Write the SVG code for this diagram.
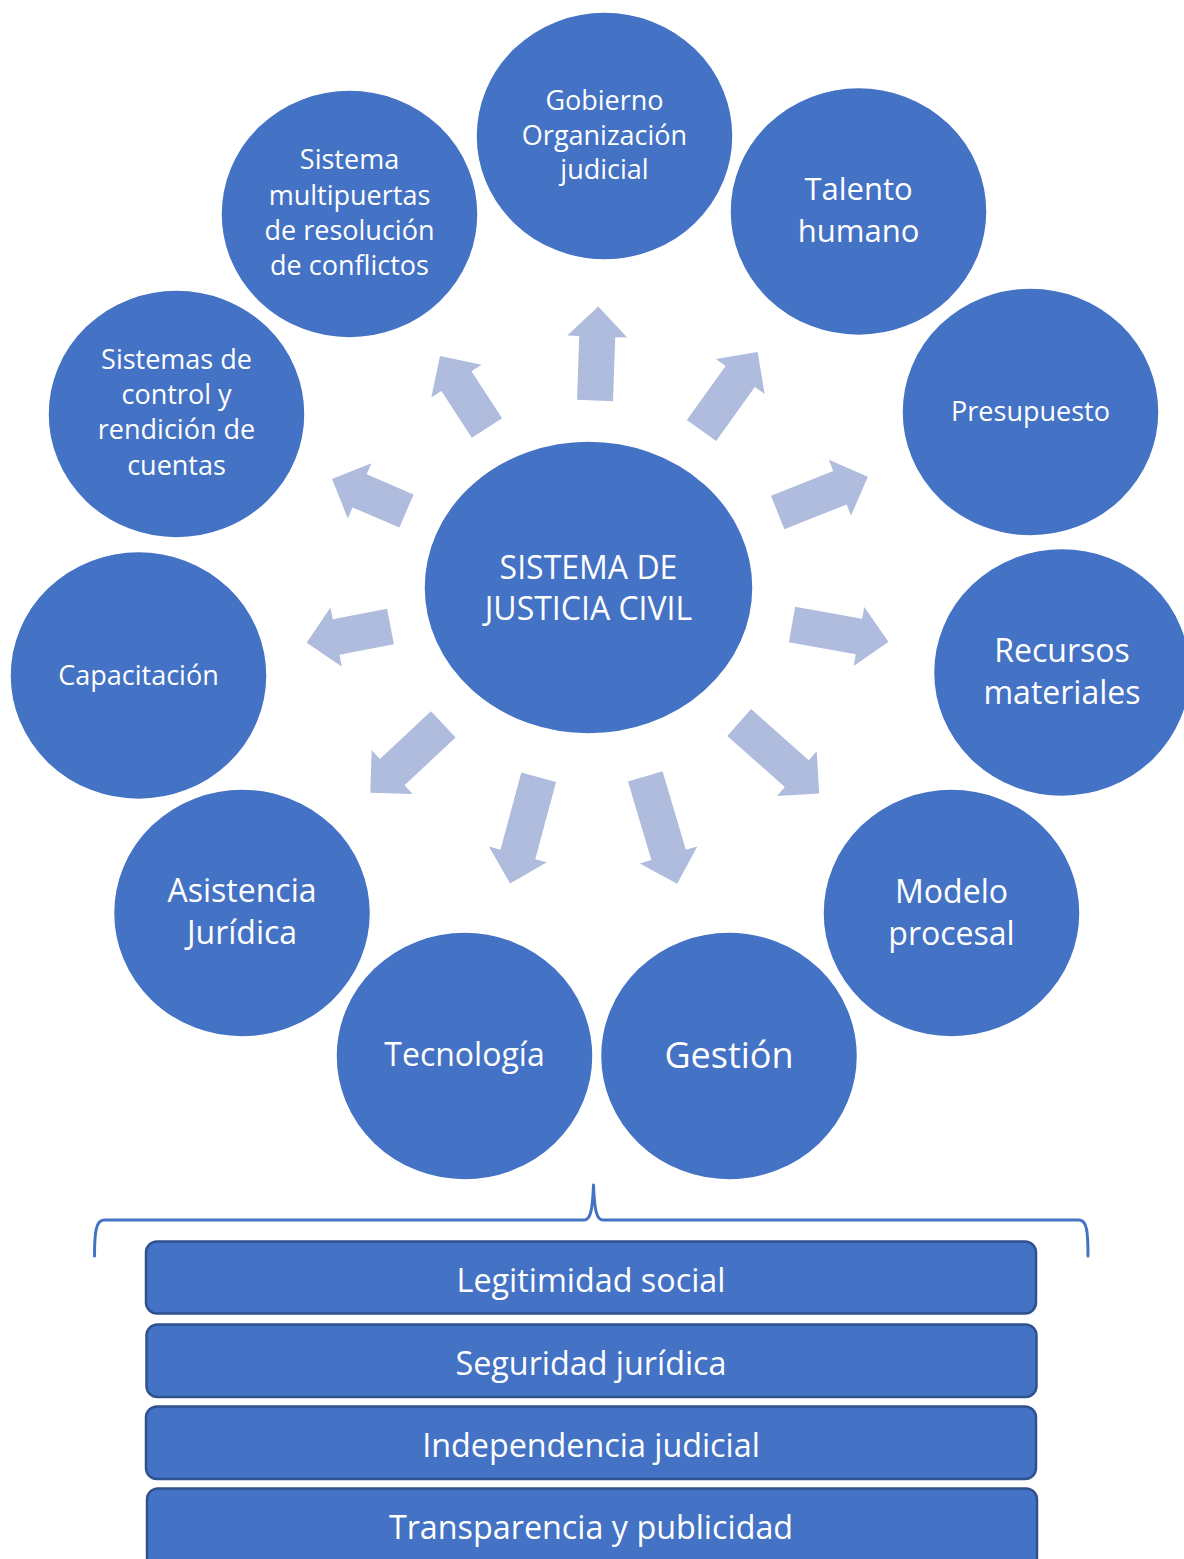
<svg xmlns="http://www.w3.org/2000/svg" width="1184" height="1559" viewBox="0 0 1184 1559">
  <style>
    .node { fill: #4472C4; stroke: #FFFFFF; stroke-width: 1.5; }
    .bar { fill: #4472C4; stroke: #2F528F; stroke-width: 2.5; }
    .arr { fill: #AFBCDE; }
    .brace { fill: none; stroke: #4472C4; stroke-width: 3; stroke-linecap: round; stroke-linejoin: round; }
    text { fill: #FFFFFF; font-family: "Open Sans", "Lato", "Liberation Sans", sans-serif; text-anchor: middle; }
    .t27 { font-size: 27px; }
    .t31 { font-size: 31px; }
    .t32 { font-size: 32px; }
    .t36 { font-size: 36px; }
    .tb { font-size: 32.3px; }
  </style>

  <rect x="0" y="0" width="1184" height="1559" fill="#FFFFFF"/>

  <!-- block arrows radiating from the central node -->
  <g id="connectors">
    <polygon class="arr" transform="translate(595,400.5) rotate(-88)" points="0,-18 64,-18 64,-30 94,0 64,30 64,18 0,18"/>
    <polygon class="arr" transform="translate(487,428) rotate(-123.1)" points="0,-18 56,-18 56,-30 86,0 56,30 56,18 0,18"/>
    <polygon class="arr" transform="translate(701.5,430.5) rotate(-54.4)" points="0,-18 66.5,-18 66.5,-30 96.5,0 66.5,30 66.5,18 0,18"/>
    <polygon class="arr" transform="translate(406.5,511) rotate(-156.8)" points="0,-18 51,-18 51,-30 81,0 51,30 51,18 0,18"/>
    <polygon class="arr" transform="translate(777.7,512.5) rotate(-21.7)" points="0,-18 67,-18 67,-30 97,0 67,30 67,18 0,18"/>
    <polygon class="arr" transform="translate(390.5,626.5) rotate(169.1)" points="0,-18 55.4,-18 55.4,-30 85.4,0 55.4,30 55.4,18 0,18"/>
    <polygon class="arr" transform="translate(792,624.5) rotate(10.1)" points="0,-18 68,-18 68,-30 98,0 68,30 68,18 0,18"/>
    <polygon class="arr" transform="translate(443.3,724.3) rotate(136.9)" points="0,-18 70,-18 70,-30 100,0 70,30 70,18 0,18"/>
    <polygon class="arr" transform="translate(739.2,722.5) rotate(41.6)" points="0,-18 77,-18 77,-30 107,0 77,30 77,18 0,18"/>
    <polygon class="arr" transform="translate(538.7,777.2) rotate(105.1)" points="0,-18 80,-18 80,-30 110,0 80,30 80,18 0,18"/>
    <polygon class="arr" transform="translate(645.3,776.3) rotate(73.5)" points="0,-18 82,-18 82,-30 112,0 82,30 82,18 0,18"/>
  </g>

  <!-- central node -->
  <g id="centro">
    <ellipse class="node" cx="588.5" cy="587.5" rx="164.5" ry="146.5"/>
    <text class="t32" x="588.5" y="579">SISTEMA DE</text>
    <text class="t32" x="588.5" y="620">JUSTICIA CIVIL</text>
  </g>

  <!-- surrounding nodes -->
  <g id="gobierno">
    <ellipse class="node" cx="604.5" cy="136" rx="128.5" ry="124"/>
    <text class="t27" x="604.5" y="110">Gobierno</text>
    <text class="t27" x="604.5" y="145">Organización</text>
    <text class="t27" x="604.5" y="179">judicial</text>
  </g>

  <g id="talento">
    <ellipse class="node" cx="858.5" cy="211.5" rx="128.5" ry="124"/>
    <text class="t31" x="858.5" y="200">Talento</text>
    <text class="t31" x="858.5" y="242">humano</text>
  </g>

  <g id="multipuertas">
    <ellipse class="node" cx="349.5" cy="214" rx="128.5" ry="124"/>
    <text class="t27" x="349.5" y="169">Sistema</text>
    <text class="t27" x="349.5" y="205">multipuertas</text>
    <text class="t27" x="349.5" y="240">de resolución</text>
    <text class="t27" x="349.5" y="275">de conflictos</text>
  </g>

  <g id="presupuesto">
    <ellipse class="node" cx="1030.5" cy="412" rx="128.5" ry="124"/>
    <text class="t27" x="1030.5" y="421">Presupuesto</text>
  </g>

  <g id="control">
    <ellipse class="node" cx="176.5" cy="414" rx="128.5" ry="124"/>
    <text class="t27" x="176.5" y="369">Sistemas de</text>
    <text class="t27" x="176.5" y="404">control y</text>
    <text class="t27" x="176.5" y="439">rendición de</text>
    <text class="t27" x="176.5" y="475">cuentas</text>
  </g>

  <g id="recursos">
    <ellipse class="node" cx="1062" cy="672.5" rx="128.5" ry="124"/>
    <text class="t32" x="1062" y="662">Recursos</text>
    <text class="t32" x="1062" y="704">materiales</text>
  </g>

  <g id="capacitacion">
    <ellipse class="node" cx="138.5" cy="675.5" rx="128.5" ry="124"/>
    <text class="t27" x="138.5" y="685">Capacitación</text>
  </g>

  <g id="modelo">
    <ellipse class="node" cx="951.5" cy="913" rx="128.5" ry="124"/>
    <text class="t32" x="951.5" y="903">Modelo</text>
    <text class="t32" x="951.5" y="945">procesal</text>
  </g>

  <g id="asistencia">
    <ellipse class="node" cx="242" cy="913" rx="128.5" ry="124"/>
    <text class="t32" x="242" y="902">Asistencia</text>
    <text class="t32" x="242" y="944">Jurídica</text>
  </g>

  <g id="tecnologia">
    <ellipse class="node" cx="464.5" cy="1056" rx="128.5" ry="124"/>
    <text class="t32" x="464.5" y="1066">Tecnología</text>
  </g>

  <g id="gestion">
    <ellipse class="node" cx="729" cy="1056" rx="128.5" ry="124"/>
    <text class="t36" x="729" y="1068">Gestión</text>
  </g>

  <!-- brace grouping the foundations -->
  <g id="llave">
    <path class="brace" d="M94.5,1256 C94.5,1232 96,1220 104,1220 L584,1220 C590,1220 592.5,1212 593.5,1185 C594.5,1212 597,1220 603,1220 L1079,1220 C1087,1220 1088,1232 1088,1256"/>
  </g>

  <!-- foundation bars -->
  <g id="legitimidad">
    <rect class="bar" x="146" y="1241.5" width="890" height="72" rx="11"/>
    <text class="tb" x="591" y="1292">Legitimidad social</text>
  </g>
  <g id="seguridad">
    <rect class="bar" x="146.5" y="1324.5" width="890" height="72.5" rx="11"/>
    <text class="tb" x="591" y="1375">Seguridad jurídica</text>
  </g>
  <g id="independencia">
    <rect class="bar" x="146" y="1406.5" width="890" height="72.5" rx="11"/>
    <text class="tb" x="591" y="1457">Independencia judicial</text>
  </g>
  <g id="transparencia">
    <rect class="bar" x="147" y="1488.5" width="890" height="80" rx="11"/>
    <text class="tb" x="591" y="1539">Transparencia y publicidad</text>
  </g>
</svg>
